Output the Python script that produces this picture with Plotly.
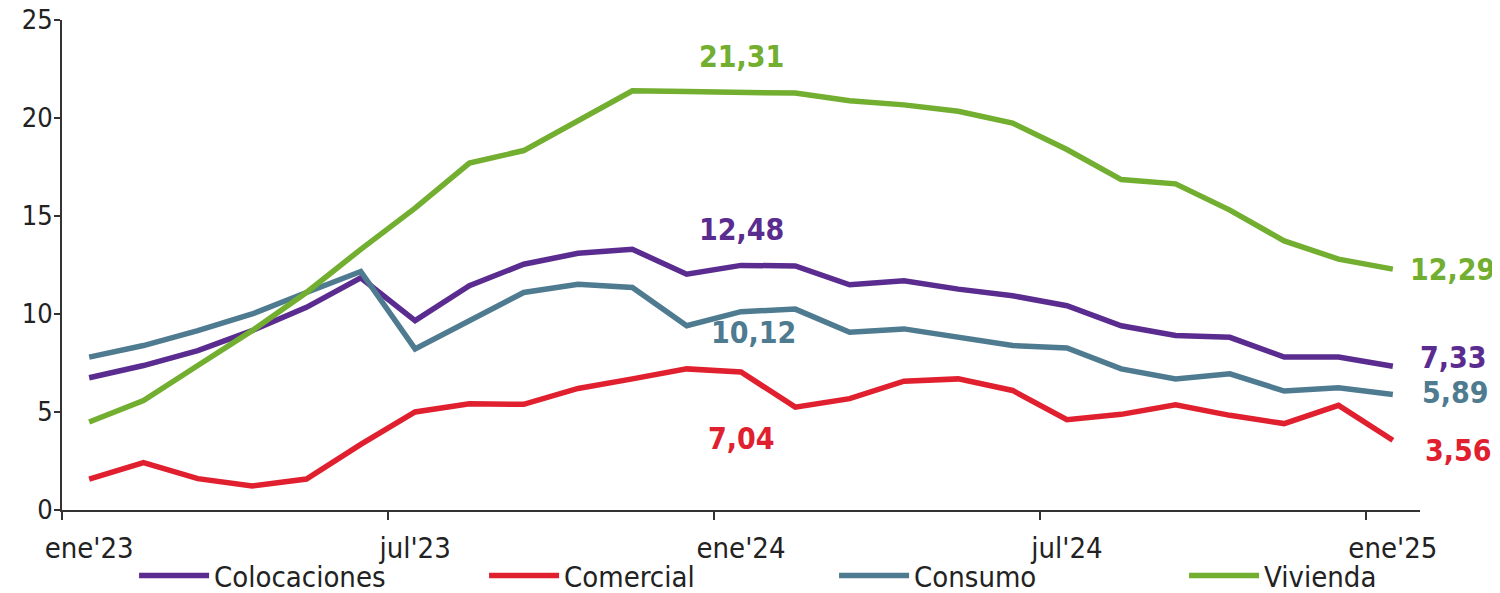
import plotly.graph_objects as go

# meses ene'23 .. ene'25
meses = ["ene'23", "feb'23", "mar'23", "abr'23", "may'23", "jun'23",
         "jul'23", "ago'23", "sep'23", "oct'23", "nov'23", "dic'23",
         "ene'24", "feb'24", "mar'24", "abr'24", "may'24", "jun'24",
         "jul'24", "ago'24", "sep'24", "oct'24", "nov'24", "dic'24",
         "ene'25"]

colocaciones = [6.75, 7.37, 8.13, 9.15, 10.34, 11.85, 9.66, 11.44, 12.54, 13.10, 13.30, 12.03,
                12.48, 12.45, 11.49, 11.69, 11.27, 10.93, 10.42, 9.40, 8.90, 8.81, 7.80, 7.80, 7.33]
comercial = [1.58, 2.42, 1.60, 1.22, 1.58, 3.35, 5.00, 5.42, 5.39, 6.20, 6.69, 7.20,
             7.04, 5.25, 5.68, 6.57, 6.69, 6.10, 4.61, 4.88, 5.37, 4.83, 4.41, 5.34, 3.56]
consumo = [7.80, 8.39, 9.15, 10.00, 11.10, 12.17, 8.22, 9.66, 11.10, 11.52, 11.35, 9.40,
           10.12, 10.25, 9.07, 9.24, 8.78, 8.39, 8.27, 7.20, 6.69, 6.95, 6.07, 6.24, 5.89]
vivienda = [4.49, 5.59, 7.37, 9.15, 11.10, 13.30, 15.40, 17.70, 18.34, 19.83, 21.39, 21.35,
            21.31, 21.27, 20.88, 20.67, 20.34, 19.74, 18.39, 16.86, 16.64, 15.30, 13.73, 12.80, 12.29]

nombres = ["Colocaciones", "Comercial", "Consumo", "Vivienda"]
colores = ["#5b2c8f", "#e0202e", "#4f7b90", "#72ae2f"]
series = [colocaciones, comercial, consumo, vivienda]

FONT = "DejaVu Sans Condensed, DejaVu Sans, sans-serif"

x = list(range(len(meses)))
fig = go.Figure()
for nom, col, ys in zip(nombres, colores, series):
    fig.add_trace(go.Scatter(x=x, y=ys, name=nom, mode="lines",
                             line=dict(color=col, width=5.5)))

def fmt(v):
    return f"{v:.2f}".replace(".", ",")

# etiquetas en ene'24 (indice 12) y al final
i_mid = 12
i_fin = len(meses) - 1
mid_shift = [(0, 36), (0, -66), (12, -21), (0, 36)]   # (xshift, yshift) por serie
fin_shift = [(25, 9), (30, -10), (27, 2), (15, 0)]
for k, (col, ys) in enumerate(zip(colores, series)):
    dx, dy = mid_shift[k]
    fig.add_annotation(x=i_mid, y=ys[i_mid], text="<b>" + fmt(ys[i_mid]) + "</b>",
                       showarrow=False, xshift=dx, yshift=dy,
                       font=dict(family=FONT, size=30, color=col))
    dx, dy = fin_shift[k]
    fig.add_annotation(x=i_fin, y=ys[i_fin], text="<b>" + fmt(ys[i_fin]) + "</b>",
                       showarrow=False, xanchor="left", xshift=dx, yshift=dy,
                       font=dict(family=FONT, size=30, color=col))

etiquetas_x = x[::6]
fig.update_layout(
    width=1500, height=593,
    margin=dict(l=54, r=88, t=12, b=91, autoexpand=False),
    plot_bgcolor="white", paper_bgcolor="white",
    font=dict(family=FONT, size=29, color="#222222"),
    showlegend=True,
    legend=dict(orientation="h", x=1.084, xanchor="right", y=-0.134, yanchor="middle",
                itemwidth=70, entrywidth=265, font=dict(size=29, color="#222222"),
                bgcolor="rgba(0,0,0,0)"),
    xaxis=dict(range=[-0.5, len(meses) - 0.5], tickmode="array",
               tickvals=etiquetas_x, ticktext=[meses[i] for i in etiquetas_x],
               ticks="", showgrid=False, zeroline=False, automargin=False,
               showline=True, linecolor="#333333", linewidth=2,
               ticklabelstandoff=11,
               minor=dict(tickmode="linear", tick0=-0.5, dtick=6, ticks="outside",
                          ticklen=8, tickwidth=2, tickcolor="#333333", showgrid=False)),
    yaxis=dict(range=[0, 25], tickmode="linear", tick0=0, dtick=5,
               ticks="outside", ticklen=6, tickwidth=2, tickcolor="#333333",
               showgrid=False, zeroline=False, automargin=False,
               ticklabelstandoff=-4, ticklabeloverflow="allow",
               tickfont=dict(size=27),
               showline=True, linecolor="#333333", linewidth=2),
)

fig.write_html("out.html")
